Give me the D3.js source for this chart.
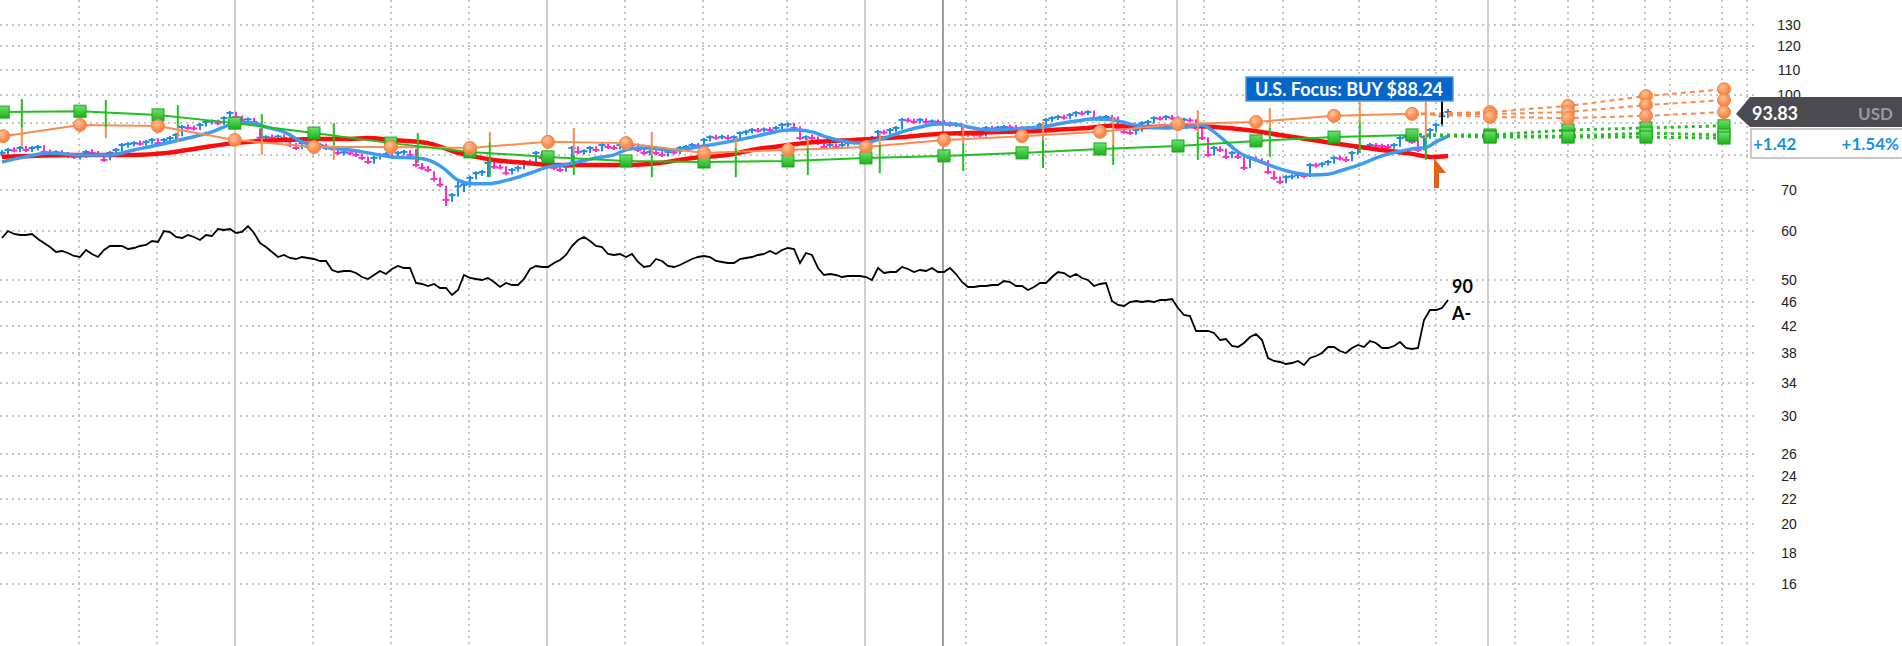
<!DOCTYPE html>
<meta charset="utf-8">
<style>
body { margin: 0; background: #fff; }
svg { display: block; font-family: Lato, "Open Sans", sans-serif; }
.grid-h line, .grid-q { stroke: #c6c6c6; stroke-width: 2px; stroke-dasharray: 2,4; }
.grid-y { stroke: #d0d0d0; stroke-width: 2px; }
.grid-dark { stroke: #9e9e9e; stroke-width: 2px; }
.axis text { font-size: 14px; fill: #222; }
.axis path, .axis line { display: none; }
.rs { fill: none; stroke: #000; stroke-width: 1.8px; }
.ma10 { fill: none; stroke: #3d9cf2; stroke-width: 3.5px; }
.ma40 { fill: none; stroke: #ff0a0a; stroke-width: 4.5px; }
.est-o { fill: none; stroke: #f98c50; stroke-width: 2px; }
.est-g { fill: none; stroke: #1fc11f; stroke-width: 2px; }
.proj-o { fill: none; stroke: #f98c50; stroke-width: 2px; stroke-dasharray: 5,4; }
.proj-g { fill: none; stroke: #1fc11f; stroke-width: 3px; stroke-dasharray: 3,4; }
</style>
<svg width="1902" height="646"></svg>
<script src="https://cdn.jsdelivr.net/npm/d3@7"></script>
<script>

// weekly bars, index 0 = leftmost week
const closes = [80.5,81.4,81.2,82.0,81.4,82.0,82.3,80.8,80.5,80.7,
  80.2,79.6,79.3,79.5,80.8,80.5,79.9,78.4,80.5,81.4,
  82.9,83.2,83.5,83.3,83.9,84.5,83.5,84.5,85.1,86.1,
  88.7,88.4,88.2,89.4,90.4,90.6,90.0,91.7,93.5,92.1,
  91.1,91.3,90.4,85.2,85.4,85.2,85.6,85.1,82.9,82.0,
  83.5,82.3,82.0,82.9,82.0,81.8,80.5,80.7,80.4,79.9,
  79.0,77.8,79.0,79.9,80.1,79.3,80.5,80.8,79.9,76.9,
  76.1,75.5,73.0,71.4,67.5,68.7,71.0,71.4,73.3,74.6,
  74.9,77.5,76.4,76.2,74.6,75.5,76.1,77.8,77.5,80.5,
  79.0,76.9,76.1,75.5,76.4,82.0,80.8,81.0,82.0,81.4,
  82.9,82.3,82.0,82.9,83.5,82.9,81.4,80.5,80.8,80.5,
  79.9,80.8,80.6,82.0,82.3,82.9,82.7,84.5,85.4,85.2,
  85.5,85.1,85.4,86.7,87.1,87.7,87.5,87.9,87.7,88.4,
  89.4,89.6,88.4,85.1,85.4,85.1,83.5,82.3,82.9,82.3,
  82.9,83.5,84.5,84.3,83.9,85.1,87.1,86.9,87.7,88.4,
  91.1,90.9,90.4,91.1,90.4,90.6,90.4,90.0,89.4,89.6,
  86.1,86.3,86.1,86.0,88.4,88.2,88.5,88.7,88.6,88.4,
  87.1,88.4,88.5,89.4,91.1,91.7,92.1,91.9,92.8,93.5,
  93.3,93.8,91.7,91.9,92.1,91.7,88.4,87.1,86.7,87.7,
  90.0,90.4,91.7,91.5,92.1,91.7,91.1,91.2,90.9,88.4,
  85.1,79.9,82.0,81.4,79.3,80.5,79.3,76.1,79.0,78.4,
  77.8,74.9,73.3,72.2,73.5,73.7,74.1,73.8,76.9,76.8,
  77.2,77.8,79.0,78.8,78.4,80.5,82.0,82.3,82.9,82.7,
  82.6,82.3,82.9,85.1,85.4,83.9,81.4,85.4,87.7,89.4,
  92.41,93.83];

const highs = [81.0,81.7,81.9,82.3,82.4,82.3,82.6,82.5,81.2,81.0,
  81.0,80.5,80.0,79.8,81.1,81.3,80.8,80.0,80.8,81.7,
  83.2,83.5,83.8,84.0,84.2,84.8,84.7,84.8,85.4,86.4,
  89.0,89.2,88.9,89.7,90.7,90.9,90.8,92.0,93.8,93.6,
  92.3,91.6,91.5,87.9,85.7,85.9,85.9,85.9,85.0,83.2,
  83.8,83.7,82.6,83.2,83.1,82.4,81.9,81.0,81.0,80.6,
  80.0,79.1,79.3,80.2,80.4,80.2,80.8,81.1,81.0,81.4,
  77.2,76.4,74.9,73.2,70.9,69.0,71.9,71.7,73.6,74.9,
  75.2,77.8,77.6,76.8,76.3,75.8,76.4,78.1,78.2,80.8,
  80.6,79.1,77.1,76.3,76.7,82.3,82.2,81.3,82.3,82.2,
  83.2,83.1,82.6,83.2,83.8,83.7,83.1,81.6,81.1,81.0,
  80.7,81.1,81.1,82.3,82.6,83.2,83.2,84.8,85.7,85.8,
  85.8,85.8,85.7,87.0,87.4,88.0,88.0,88.2,88.3,88.7,
  89.7,89.9,89.7,88.6,85.7,85.9,85.3,83.7,83.2,83.1,
  83.2,83.8,84.8,84.9,84.6,85.4,87.4,87.5,88.0,88.7,
  91.4,91.5,91.2,91.4,91.3,90.9,90.9,90.7,90.2,89.9,
  89.6,86.6,86.6,86.5,88.7,88.8,88.8,89.0,89.1,89.0,
  88.6,88.7,88.8,89.7,91.4,92.0,92.4,92.5,93.1,93.8,
  93.9,94.1,94.0,92.2,92.4,92.4,91.9,88.7,87.5,88.0,
  90.3,90.7,92.0,92.0,92.4,92.4,92.0,91.5,91.5,91.0,
  88.5,85.0,82.3,82.2,81.5,80.8,80.7,79.5,79.3,79.2,
  78.6,78.0,75.0,73.4,73.8,74.0,74.4,74.3,77.2,77.3,
  77.5,78.1,79.3,79.4,79.1,80.8,82.3,82.6,83.2,83.2,
  83.0,82.9,83.2,85.4,85.7,85.6,84.0,85.7,88.0,89.7,
  92.7,94.5];

const lows = [79.8,80.3,81.0,81.0,81.1,81.1,81.6,80.5,80.2,80.0,
  79.9,79.3,79.0,78.8,79.3,80.2,79.6,78.1,78.6,80.2,
  81.2,82.4,82.8,83.0,83.0,83.6,83.2,83.3,84.2,84.8,
  86.0,88.1,87.9,88.0,89.2,89.9,89.7,89.8,91.5,91.8,
  90.8,90.5,90.1,84.9,84.6,84.9,84.8,84.8,82.6,81.7,
  81.9,82.0,81.7,81.8,81.7,81.5,80.2,80.1,80.1,79.6,
  78.7,77.5,77.6,78.8,79.5,79.0,79.2,80.2,79.6,76.6,
  75.8,75.2,72.6,71.1,66.2,67.3,68.6,69.8,71.2,73.1,
  74.2,73.8,76.1,75.9,74.3,74.5,75.3,76.0,77.2,77.4,
  78.7,76.6,75.8,75.2,75.3,76.5,80.5,80.4,80.8,81.1,
  81.3,82.0,81.7,81.8,82.6,82.6,81.1,80.2,80.2,80.2,
  79.6,79.7,80.3,80.5,81.7,82.1,82.4,82.6,84.3,84.9,
  85.0,84.8,84.9,85.2,86.4,86.9,87.2,87.3,87.4,87.6,
  88.2,89.0,88.1,84.8,84.8,84.8,83.2,82.0,82.1,82.0,
  82.1,82.7,83.3,84.0,83.6,83.7,84.9,86.6,86.7,87.5,
  88.2,90.6,90.1,90.2,90.1,90.1,90.1,89.7,89.1,89.0,
  85.8,85.8,85.8,85.7,85.9,87.9,88.0,88.2,88.3,88.1,
  86.8,86.9,88.1,88.3,89.2,90.8,91.4,91.6,91.7,92.5,
  93.0,93.0,91.4,91.3,91.5,91.4,88.1,86.8,86.4,86.5,
  87.5,89.7,90.2,91.2,91.3,91.4,90.8,90.8,90.6,88.1,
  84.8,79.6,80.0,81.1,79.0,79.2,79.0,75.8,76.3,78.1,
  77.5,74.6,73.0,71.9,72.1,73.2,73.4,73.5,73.8,76.5,
  76.6,77.0,77.6,78.5,78.1,78.3,80.3,81.7,82.1,82.4,
  82.3,82.0,82.1,82.7,84.8,83.6,81.1,81.5,85.2,87.5,
  89.2,92.2];

// relative strength line (arbitrary units)
const rsLine = [182,189,186,185,185,186,181,177,173,168,
  169,167,164,163,170,166,163,170,174,174,
  174,171,172,174,175,179,178,189,188,183,
  182,185,183,180,185,184,191,190,191,187,
  188,194,187,177,173,168,163,165,162,161,
  163,162,161,159,159,150,148,149,149,147,
  143,141,145,149,146,151,154,152,152,137,
  136,134,136,132,132,125,130,145,142,141,
  140,142,138,133,137,135,135,141,151,154,
  153,153,157,160,165,174,180,183,179,174,
  173,166,165,166,163,166,158,153,154,161,
  159,154,153,155,158,161,163,164,163,159,
  158,157,157,161,162,163,165,166,169,166,
  170,172,171,157,167,165,152,145,146,145,
  143,144,144,144,143,140,152,147,148,148,
  153,151,148,150,149,152,148,148,152,146,
  138,133,133,134,134,135,135,139,138,134,
  134,130,133,137,137,143,148,147,143,146,
  142,140,134,136,137,119,115,114,118,119,
  118,119,118,120,120,121,112,105,104,89,
  89,89,87,80,81,74,73,77,83,86,
  80,62,59,58,56,57,59,55,62,64,
  67,73,73,69,67,72,75,73,79,77,
  72,72,74,78,72,71,72,100,110,110,
  112,120];

// moving averages as [week, price]
const ma10 = [[0,77.8],[3,79.0],[8,80.5],[13,79.9],[18,79.9],[22,81.4],[26,82.9],[31,85.1],[35,87.1],[38,89.4],[40,90.2],[42,90.0],[44,88.7],[47,87.1],[50,83.9],[52,82.9],[55,82.0],[58,81.4],[61,80.5],[65,79.3],[69,79.0],[71,78.4],[73.5,76.1],[76,72.7],[78.5,71.7],[81,71.7],[83,72.2],[86,73.5],[88.5,74.9],[91,76.4],[93.5,76.9],[96,77.8],[99,79.0],[102,79.9],[104,81.4],[106,82.0],[108,82.0],[111,81.4],[113,81.4],[115,82.0],[118,82.9],[121,83.9],[125,85.4],[128,86.7],[131,87.7],[132.5,87.7],[135,87.1],[137.5,85.4],[140,84.2],[143,83.5],[144.5,83.9],[147.5,85.4],[150,87.1],[153,88.7],[156,89.7],[158.5,89.7],[161,88.7],[163,88.0],[165,87.7],[168,88.0],[171,88.4],[173.5,88.7],[176,89.7],[179,90.7],[182,91.4],[185,91.1],[188,89.7],[191,88.7],[194,88.4],[197.5,88.7],[200,89.4],[202,87.1],[204,83.9],[206,80.8],[209,78.4],[212,76.4],[215,74.9],[218.5,74.1],[221,74.3],[223.5,75.5],[227,77.5],[229.5,79.3],[232.5,80.8],[235,81.7],[237.5,82.3],[239,83.9],[241,85.7]];

const ma40 = [[0,79.3],[5,79.6],[11,79.9],[16,79.9],[22,79.9],[27.5,80.5],[33,82.0],[38.5,83.5],[43,84.2],[47,84.5],[52.5,84.8],[58,84.8],[61,85.1],[65,84.5],[71,83.5],[76,80.5],[82,78.4],[87.5,77.5],[93,76.9],[98.5,76.9],[104,76.9],[109.5,77.5],[115,79.0],[121,79.9],[125,81.4],[131,82.9],[136,83.9],[142,84.5],[150,85.4],[156,86.4],[161,86.7],[167,87.1],[172.5,87.4],[178,88.0],[181,88.4],[185,89.1],[191,88.7],[196,89.1],[202,88.7],[207.5,87.7],[213,86.1],[218.5,84.5],[224,82.9],[230,81.4],[235,80.2],[238,79.3],[241,79.6]];

// quarterly estimate lines
const qWeeks = [0.2,13,26,38.8,52,64.8,78,91,104,117,131,144,157,170,183,196,209,222,235];
const orangeVals = [85.7,89.4,89.0,84.5,82.3,82.3,82.0,83.9,83.5,80.5,81.4,82.3,84.5,85.7,87.1,89.7,90.4,92.5,93.2];
const greenVals = [93.8,94.1,92.8,90.0,86.7,83.5,80.8,79.3,78.1,77.8,78.1,79.0,79.6,80.5,81.7,82.6,84.2,85.4,86.1];

const projWeeks = [235,248,261,274,287];
const orangeProj = [
  [93.2,93.8,96.0,99.6,102.2],
  [93.2,93.1,93.8,96.3,98.1],
  [93.2,92.1,91.7,92.5,93.8]];
const greenProj = [
  [86.1,86.1,87.7,88.4,89.1],
  [86.1,85.7,85.7,86.7,86.1],
  [86.1,85.4,85.4,85.4,85.1]];

// report weeks: [week, orange hi, orange lo, green hi, green lo]
const events = [[3.3,88.7,82.3,98.5,88.7],[17.3,88.7,85.1,98.1,88.7],[29.3,88.4,83.9,96.3,88.4],[43.3,85.1,79.9,93.1,85.1],[55.3,82.9,78.4,90.0,82.9],[69.3,82.3,82.3,86.7,77.5],[81.3,87.1,83.9,83.9,73.5],[95.3,88.4,79.9,79.9,74.1],[108.3,87.1,79.9,79.9,73.5],[122.3,85.1,82.0,82.0,73.5],[134.3,85.4,82.0,82.0,74.1],[146.3,86.7,82.9,82.9,74.6],[160.2,89.4,83.5,83.5,75.2],[173.5,90.4,84.5,84.5,76.1],[185.2,92.1,82.9,82.9,76.9],[199.3,94.5,87.1,87.1,78.4],[211.3,95.2,88.4,88.4,79.3],[226.3,97.4,90.4,90.4,80.5],[237.3,97.4,85.1,85.1,78.4]];

const priceTicks = [130,120,110,100,90,80,70,60,50,46,42,38,34,30,26,24,22,20,18,16];
// 90 and 80 sit under the price tag, so only their grid lines show
const labelTicks = [130,120,110,100,70,60,50,46,42,38,34,30,26,24,22,20,18,16];
const yearLines = [38.8,90.8,143.8,195.8,247.7];
const darkLines = [156.8];
const quarterLines = [12.8,25.8,51.8,64.8,77.8,103.8,116.8,130.8,160.7,174,187,200.3,213.5,226.2,239,252.2,261,265.2,273.8,278,286.7,290.8];

const lastPrice = 93.83, change = '+1.42', changePct = '+1.54%';
const buyLabel = 'U.S. Focus: BUY $88.24';
const rsRating = '90', adRating = 'A-';

const width = 1902, height = 646;
const svg = d3.select('svg');
const x = d3.scaleLinear().domain([0, 292]).range([2, 1754]);
const y = d3.scaleLog().domain([16, 130]).range([584, 25]);
const rsY = d3.scaleLinear().domain([0, 200]).range([420, 220]);

const defs = svg.append('defs');
const rg = defs.append('radialGradient').attr('id', 'dot').attr('cx', '40%').attr('cy', '35%');
rg.append('stop').attr('offset', '0%').attr('stop-color', '#ffc39a');
rg.append('stop').attr('offset', '100%').attr('stop-color', '#f7894a');
const lg = defs.append('linearGradient').attr('id', 'sq').attr('x1', 0).attr('y1', 0).attr('x2', 0).attr('y2', 1);
lg.append('stop').attr('offset', '0%').attr('stop-color', '#6ee06e');
lg.append('stop').attr('offset', '100%').attr('stop-color', '#1cb01c');

// grid
svg.append('g').attr('class', 'grid-h')
  .selectAll('line').data(priceTicks).enter().append('line')
  .attr('x1', 0).attr('x2', 1755)
  .attr('y1', d => Math.round(y(d))).attr('y2', d => Math.round(y(d)));

svg.selectAll('.grid-q').data(quarterLines).enter().append('line')
  .attr('class', 'grid-q')
  .attr('x1', d => Math.round(x(d))).attr('x2', d => Math.round(x(d)))
  .attr('y1', 0).attr('y2', height);

svg.selectAll('.grid-y').data(yearLines).enter().append('line')
  .attr('class', 'grid-y')
  .attr('x1', d => Math.round(x(d))).attr('x2', d => Math.round(x(d)))
  .attr('y1', 0).attr('y2', height);

svg.selectAll('.grid-dark').data(darkLines).enter().append('line')
  .attr('class', 'grid-dark')
  .attr('x1', d => Math.round(x(d))).attr('x2', d => Math.round(x(d)))
  .attr('y1', 0).attr('y2', height);

// y axis
const axis = svg.append('g').attr('class', 'axis')
  .attr('transform', 'translate(1789,0)')
  .call(d3.axisRight(y).tickValues(labelTicks).tickSize(0).tickPadding(0).tickFormat(d3.format('d')));
axis.selectAll('text').attr('text-anchor', 'middle').attr('x', 0);

// RS line
svg.append('path').attr('class', 'rs')
  .attr('d', d3.line().x((d, i) => x(i)).y(d => rsY(d))(rsLine));

// price bars
const bars = svg.append('g');
closes.forEach((c, i) => {
  const up = i === 0 || c >= closes[i - 1];
  const col = up ? '#1f8ceb' : '#ff2bd0';
  const g = bars.append('g').attr('stroke', col).attr('stroke-width', 2);
  g.append('line').attr('x1', x(i)).attr('x2', x(i)).attr('y1', y(highs[i]) - 1).attr('y2', y(lows[i]) + 1);
  g.append('line').attr('x1', x(i) - 3.5).attr('x2', x(i) + 3.5).attr('y1', y(c)).attr('y2', y(c));
});

const maLine = d3.line().x(d => x(d[0])).y(d => y(d[1])).curve(d3.curveMonotoneX);
svg.append('path').attr('class', 'ma40').attr('d', maLine(ma40));
svg.append('path').attr('class', 'ma10').attr('d', maLine(ma10));

// estimate lines
const estLine = d3.line().x((d, i) => x(qWeeks[i])).y(d => y(d));
svg.append('path').attr('class', 'est-o').attr('d', estLine(orangeVals));
svg.append('path').attr('class', 'est-g').attr('d', estLine(greenVals));

const projLine = d3.line().x((d, i) => x(projWeeks[i])).y(d => y(d));
greenProj.forEach(p => svg.append('path').attr('class', 'proj-g').attr('d', projLine(p)));
orangeProj.forEach(p => svg.append('path').attr('class', 'proj-o').attr('d', projLine(p)));

// report verticals
const ev = svg.append('g');
events.forEach(e => {
  ev.append('line').attr('stroke', '#f98c50').attr('stroke-width', 2)
    .attr('x1', x(e[0])).attr('x2', x(e[0])).attr('y1', y(e[1])).attr('y2', y(e[2]));
  ev.append('line').attr('stroke', '#1fc11f').attr('stroke-width', 2)
    .attr('x1', x(e[0])).attr('x2', x(e[0])).attr('y1', y(e[3])).attr('y2', y(e[4]));
});

// markers
function squares(pts) {
  svg.append('g').selectAll('rect').data(pts).enter().append('rect')
    .attr('x', d => x(d[0]) - 6).attr('y', d => y(d[1]) - 6)
    .attr('width', 12).attr('height', 12)
    .attr('fill', 'url(#sq)').attr('stroke', '#19a519').attr('stroke-width', 1);
}
function dots(pts) {
  svg.append('g').selectAll('circle').data(pts).enter().append('circle')
    .attr('cx', d => x(d[0])).attr('cy', d => y(d[1])).attr('r', 6.5)
    .attr('fill', 'url(#dot)').attr('stroke', '#f58446').attr('stroke-width', 1);
}
const gPts = greenVals.map((v, i) => [qWeeks[i], v]);
const oPts = orangeVals.map((v, i) => [qWeeks[i], v]);
greenProj.forEach(p => p.slice(1).forEach((v, i) => gPts.push([projWeeks[i + 1], v])));
orangeProj.forEach(p => p.slice(1).forEach((v, i) => oPts.push([projWeeks[i + 1], v])));
squares(gPts);
dots(oPts);

// buy label
const lastI = closes.length - 1;
const lblX = x(lastI - 1);
svg.append('line').attr('x1', lblX).attr('x2', lblX).attr('y1', 100).attr('y2', y(highs[lastI - 2]))
  .attr('stroke', '#000').attr('stroke-width', 2);
svg.append('rect').attr('x', 1246).attr('y', 77).attr('width', 207).attr('height', 24)
  .attr('fill', '#0566c9').attr('stroke', '#4b9be6').attr('stroke-width', 1.5);
svg.append('text').attr('x', 1349).attr('y', 95.5).attr('text-anchor', 'middle')
  .attr('fill', '#fff').attr('font-weight', 700).attr('font-size', 18)
  .attr('textLength', 188).attr('lengthAdjust', 'spacingAndGlyphs')
  .text(buyLabel);

// buy arrow under the last bars
const ax = x(lastI - 2), ay = y(79.0);
svg.append('path').attr('fill', '#e55f18')
  .attr('d', `M${ax - 2},${ay} L${ax + 10},${ay + 15} L${ax + 3},${ay + 15} L${ax + 3},${ay + 30} L${ax - 2},${ay + 30} Z`);

// RS / AD ratings
svg.append('text').attr('x', 1452).attr('y', 293).attr('font-weight', 700).attr('font-size', 18).text(rsRating);
svg.append('text').attr('x', 1452).attr('y', 320).attr('font-weight', 700).attr('font-size', 18).text(adRating);

// last price tag
const py = y(lastPrice);
svg.append('path').attr('fill', '#4a4a50')
  .attr('d', `M1736,${py + 2} L1750,${py - 15} L1902,${py - 15} L1902,${py + 15} L1750,${py + 15} Z`);
svg.append('text').attr('x', 1752).attr('y', py + 8).attr('fill', '#fff').attr('font-weight', 700).attr('font-size', 18).text(lastPrice.toFixed(2));
svg.append('text').attr('x', 1893).attr('y', py + 8).attr('text-anchor', 'end').attr('fill', '#9a9a9a').attr('font-weight', 700).attr('font-size', 17).text('USD');
svg.append('rect').attr('x', 1751).attr('y', py + 17).attr('width', 152).attr('height', 29)
  .attr('fill', '#fff').attr('stroke', '#c8c8c8').attr('stroke-width', 2);
svg.append('text').attr('x', 1753).attr('y', py + 38).attr('fill', '#1a8fe8').attr('font-weight', 700).attr('font-size', 17).text(change);
svg.append('text').attr('x', 1899).attr('y', py + 38).attr('text-anchor', 'end').attr('fill', '#1a8fe8').attr('font-weight', 700).attr('font-size', 17).text(changePct);
</script>
